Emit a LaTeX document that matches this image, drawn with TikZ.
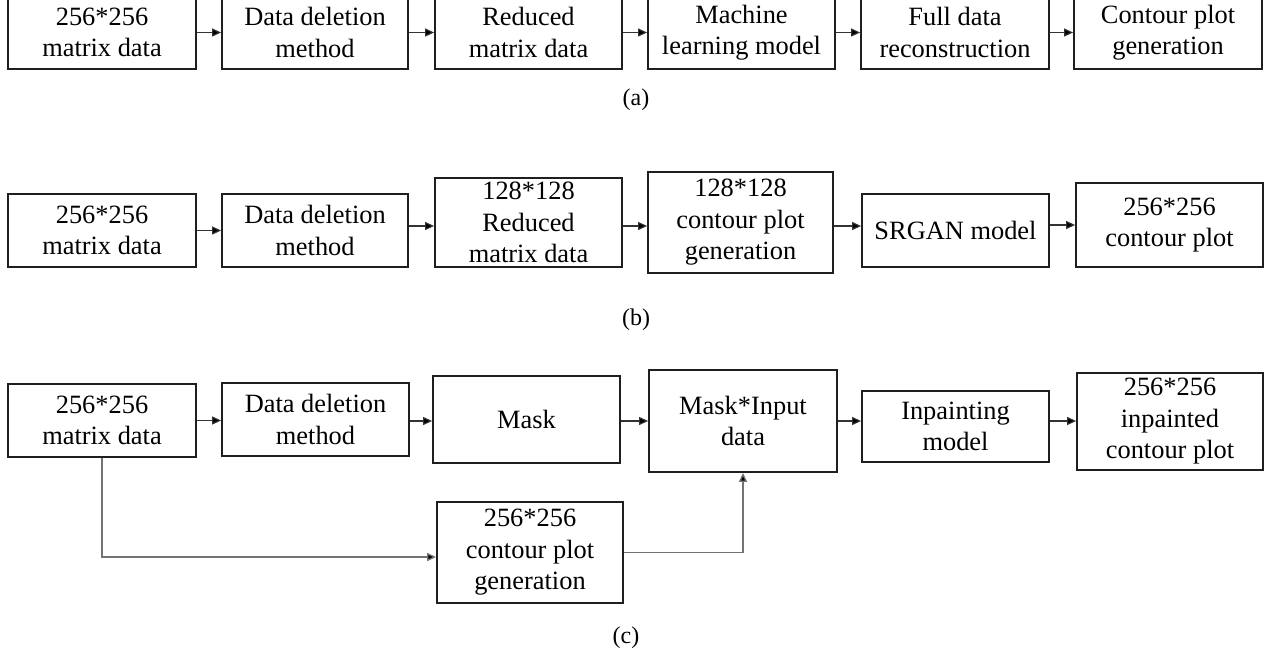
\documentclass[tikz,border=0pt]{standalone}
\usepackage{fontspec}
\setmainfont{Liberation Serif}
\usetikzlibrary{arrows.meta}
\begin{document}
\begin{tikzpicture}[x=1pt,y=-1pt,
  box/.style={draw=black!88, line width=1.8pt, align=center, inner sep=0pt,
    font=\fontsize{26.4}{31.5}\selectfont},
  arr/.style={draw=black!80, line width=1.1pt, -{Triangle[length=9pt,width=8pt,fill=black]}},
  garr/.style={draw=black!55, line width=1.3pt, -{Triangle[length=9pt,width=8pt,fill=black]}},
  lab/.style={font=\fontsize{24}{28}\selectfont, inner sep=0pt}]
\useasboundingbox (0,0) rectangle (1271,659);
% row (a)
\node[box, minimum width=188pt, minimum height=73pt] (a1) at (102,32.5) {256*256\\matrix data};
\node[box, minimum width=186pt, minimum height=73pt] (a2) at (315,32.5) {Data deletion\\method};
\node[box, minimum width=187pt, minimum height=73pt] (a3) at (528.5,32.5) {Reduced\\matrix data};
\node[box, minimum width=187pt, minimum height=73pt] (a4) at (741.5,32.5) {Machine\\learning model};
\node[box, minimum width=188pt, minimum height=73pt] (a5) at (955,32.5) {Full data\\reconstruction};
\node[box, minimum width=188pt, minimum height=73pt] (a6) at (1168,32.5) {Contour plot\\generation};
\draw[arr] (a1) -- (a2);
\draw[arr] (a2) -- (a3);
\draw[arr] (a3) -- (a4);
\draw[arr] (a4) -- (a5);
\draw[arr] (a5) -- (a6);
\node[lab] (la) at (636,100) {(a)};
% row (b)
\node[box, minimum width=188pt, minimum height=73pt] (b1) at (102,230.5) {256*256\\matrix data};
\node[box, minimum width=186pt, minimum height=73pt] (b2) at (315,230.5) {Data deletion\\method};
\node[box, minimum width=187pt, minimum height=89pt] (b3) at (528.5,222.5) {128*128\\Reduced\\matrix data};
\node[box, minimum width=185pt, minimum height=101pt] (b4) at (740.5,222.5) {128*128\\contour plot\\generation};
\node[box, minimum width=187pt, minimum height=73pt] (b5) at (955.5,230.5) {SRGAN model};
\node[box, minimum width=187pt, minimum height=84pt] (b6) at (1169.5,225) {256*256\\contour plot};
\draw[arr] (b1) -- (b2);
\draw[arr] ([yshift=4.5pt]b2.east) -- ([yshift=-3.5pt]b3.west);
\draw[arr] ([yshift=-3.5pt]b3.east) -- ([yshift=-3.5pt]b4.west);
\draw[arr] ([yshift=-3.5pt]b4.east) -- ([yshift=4.5pt]b5.west);
\draw[arr] ([yshift=5.5pt]b5.east) -- (b6.west);
\node[lab] (lb) at (636,320) {(b)};
% row (c)
\node[box, minimum width=188pt, minimum height=73pt] (c1) at (102,420.5) {256*256\\matrix data};
\node[box, minimum width=187pt, minimum height=73pt] (c2) at (315.5,419.5) {Data deletion\\method};
\node[box, minimum width=187pt, minimum height=87pt] (c3) at (526.5,419.5) {Mask};
\node[box, minimum width=188pt, minimum height=102pt] (c4) at (743,421) {Mask*Input\\data};
\node[box, minimum width=187pt, minimum height=71pt] (c5) at (955.5,426.5) {Inpainting\\model};
\node[box, minimum width=186pt, minimum height=97pt] (c6) at (1170,421.5) {256*256\\inpainted\\contour plot};
\node[box, minimum width=186pt, minimum height=101pt] (c7) at (530,552.5) {256*256\\contour plot\\generation};
\draw[arr] (c1) -- (c2.west |- c1);
\draw[arr] ([yshift=-1.5pt]c2.east) -- ([yshift=-1.5pt]c3.west);
\draw[arr] ([yshift=-1.5pt]c3.east) -- ([yshift=-0pt]c4.west);
\draw[arr] (c4) -- (c5.west |- c4);
\draw[arr] ([yshift=5.5pt]c5.east) -- ([yshift=0.5pt]c6.west);
\draw[garr] (c1.south) |- ([yshift=-4.5pt]c7.west);
\draw[garr] (c7.east) -| (c4.south);
\node[lab] (lc) at (626,638) {(c)};
\end{tikzpicture}
\end{document}
